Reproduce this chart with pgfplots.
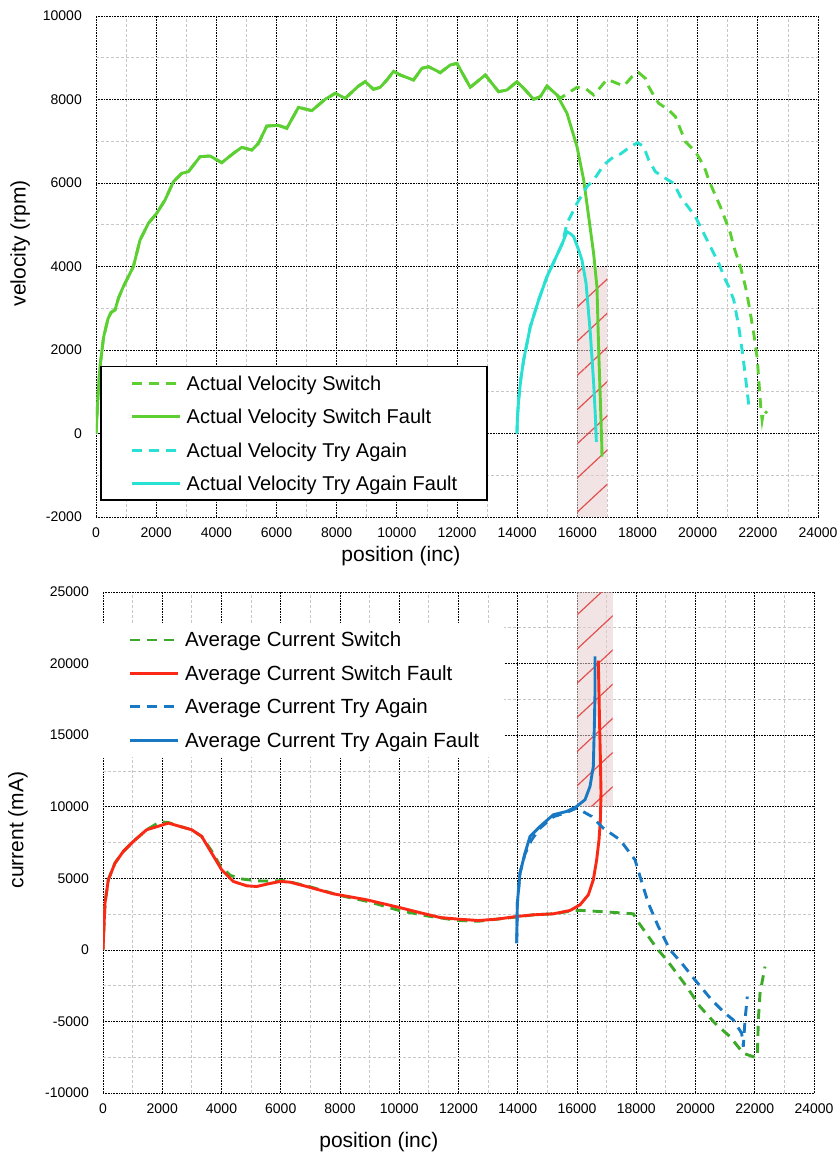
\documentclass[border=0pt]{standalone}
\usepackage{fontspec}
\setmainfont{Liberation Sans}
\usepackage{pgfplots}
\pgfplotsset{compat=1.18}
\usetikzlibrary{patterns.meta}
\definecolor{vgreen}{RGB}{92,208,50}
\definecolor{vcyan}{RGB}{40,225,210}
\definecolor{cgreen}{RGB}{60,170,40}
\definecolor{cred}{RGB}{250,40,20}
\definecolor{cblue}{RGB}{25,120,195}
\definecolor{hatchfill}{RGB}{232,205,205}
\definecolor{hatchline}{RGB}{225,80,80}
\pgfplotsset{
  mystyle/.style={
    scale only axis,
    scaled ticks=false,
    axis line style={draw=none},
    tick style={draw=none},
    grid=both,
    major grid style={black, line width=0.7pt, dash pattern=on 0.7pt off 0.9pt},
    minor grid style={black!22, line width=0.8pt, dash pattern=on 3pt off 2pt},
    tick label style={font=\fontsize{14}{16}\selectfont},
    xticklabel style={inner sep=0pt, anchor=north, yshift=-11pt},
    yticklabel style={inner sep=0pt, anchor=east, xshift=-14pt},
    label style={font=\fontsize{21}{24}\selectfont},
    legend cell align=left,
    legend image code/.code={\path (0pt,0pt); \draw[##1, line width=2.9pt] (0pt,0pt) -- (48pt,0pt);},
    xtick={0,2000,...,24000},
    xticklabels={0,2000,4000,6000,8000,10000,12000,14000,16000,18000,20000,22000,24000},
    minor xtick={1000,3000,...,23000},
    xmin=0, xmax=24000,
  },
  dashedline/.style={line width=2.9pt, dash pattern=on 10pt off 7pt},
  solidline/.style={line width=2.9pt},
}
\begin{document}
\begin{tikzpicture}
% ---------------- top axis ----------------
\begin{axis}[mystyle,
  at={(96pt,-517pt)}, anchor=south west,
  width=722pt, height=501pt,
  ymin=-2000, ymax=10000,
  ytick={-2000,0,2000,4000,6000,8000,10000},
  yticklabels={-2000,0,2000,4000,6000,8000,10000},
  minor ytick={-1000,1000,...,9000},
  xlabel={position (inc)},
  ylabel={velocity (rpm)},
  xlabel style={at={(axis description cs:0.4224,-0.0778)}, anchor=center},
  ylabel style={at={(axis description cs:-0.105,0.546)}, anchor=center},
  legend style={at={(axis description cs:0.0055,0.032)}, anchor=south west,
    draw=black, line width=1.6pt, fill=white, inner xsep=30pt, inner ysep=0pt,
    row sep=0pt, column sep=5pt,
    font=\fontsize{20}{22}\selectfont,
    nodes={inner xsep=0pt, inner ysep=5.7pt, text height=18pt, text depth=4pt}},
]
\fill[hatchfill, fill opacity=0.55] (axis cs:16000,-2000) rectangle (axis cs:17000,4000);
\path[pattern={Lines[angle=43, distance=25pt, line width=1.2pt]}, pattern color=hatchline]
  (axis cs:16000,-2000) rectangle (axis cs:17000,4000);
\addplot[vgreen, dashedline] coordinates {
(0,0) (30,400) (77,1042) (133,1600) (250,2300) (400,2750) (500,2900) (632,2960) (750,3250)
(908,3516) (1000,3650) (1241,3995) (1464,4635) (1741,5034) (2018,5274) (2295,5593) (2573,6031)
(2850,6232) (3071,6271) (3459,6630) (3792,6647) (4181,6487) (4569,6711) (4846,6854) (5179,6790)
(5400,6950) (5677,7365) (6065,7381) (6342,7310) (6730,7813) (7174,7732) (7617,8005) (7950,8148)
(8283,8029) (8726,8323) (8948,8427) (9224,8244) (9447,8292) (9669,8467) (9890,8675) (10112,8587)
(10555,8467) (10833,8747) (11055,8786) (11443,8643) (11776,8826) (11997,8866) (12440,8292)
(12939,8587) (13383,8187) (13661,8228) (13993,8427) (14270,8228) (14547,8005) (14769,8068)
(14991,8323) (15324,8108) (15434,8029) (15710,8163) (15989,8292) (16266,8268) (16543,8108)
(16765,8292) (16987,8483) (17319,8388) (17541,8323) (17818,8547) (18040,8643) (18262,8507)
(18373,8307) (18594,8029) (18705,7909) (19038,7748) (19260,7588) (19592,6990) (19925,6750)
(20091,6551) (20258,6311) (20369,6072) (20535,5792) (20756,5432) (20923,5114) (21089,4795)
(21200,4474) (21422,3995) (21588,3516) (21700,3100) (21864,2399) (21980,1800) (22031,1281)
(22100,600) (22142,323) (22197,563) (22308,484)
};
\addlegendentry{Actual Velocity Switch}
\addplot[vgreen, solidline] coordinates {
(0,0) (30,400) (77,1042) (133,1600) (250,2300) (400,2750) (500,2900) (632,2960) (750,3250)
(908,3516) (1000,3650) (1241,3995) (1464,4635) (1741,5034) (2018,5274) (2295,5593) (2573,6031)
(2850,6232) (3071,6271) (3459,6630) (3792,6647) (4181,6487) (4569,6711) (4846,6854) (5179,6790)
(5400,6950) (5677,7365) (6065,7381) (6342,7310) (6730,7813) (7174,7732) (7617,8005) (7950,8148)
(8283,8029) (8726,8323) (8948,8427) (9224,8244) (9447,8292) (9669,8467) (9890,8675) (10112,8587)
(10555,8467) (10833,8747) (11055,8786) (11443,8643) (11776,8826) (11997,8866) (12440,8292)
(12939,8587) (13383,8187) (13661,8228) (13993,8427) (14270,8228) (14547,8005) (14769,8068)
(14991,8323) (15324,8108) (15656,7669) (15989,6870) (16211,6072) (16377,5193) (16543,4300)
(16653,3500) (16709,2000) (16765,800) (16810,-200) (16820,-556)
};
\addlegendentry{Actual Velocity Switch Fault}
\addplot[vcyan, dashedline] coordinates {
(13993,0) (14010,400) (14049,802) (14120,1300) (14215,1760) (14437,2558) (14714,3198)
(14991,3756) (15324,4275) (15500,4550) (15656,5034) (15878,5353) (15989,5513) (16321,5912)
(16543,6072) (16876,6431) (17208,6630) (17430,6694) (17763,6870) (18007,6966) (18206,6870)
(18373,6551) (18594,6271) (18927,6112) (19204,5992) (19426,5672) (19758,5353) (19925,5193)
(20147,4874) (20424,4474) (20701,4077) (20923,3677) (21034,3516) (21200,3198) (21366,2558)
(21477,2000) (21588,1360) (21699,683)
};
\addlegendentry{Actual Velocity Try Again}
\addplot[vcyan, solidline] coordinates {
(13993,0) (14010,400) (14049,802) (14120,1300) (14215,1760) (14437,2558) (14714,3198)
(14991,3756) (15324,4275) (15500,4550) (15656,4834) (15780,4780) (15878,4714) (16044,4395)
(16155,4150) (16290,3597) (16432,2400) (16543,1200) (16600,400) (16632,-200)
};
\addlegendentry{Actual Velocity Try Again Fault}
\end{axis}
% ---------------- bottom axis ----------------
\begin{axis}[mystyle,
  at={(103pt,-1093pt)}, anchor=south west,
  width=711pt, height=501pt,
  ymin=-10000, ymax=25000,
  ytick={-10000,-5000,0,5000,10000,15000,20000,25000},
  yticklabels={-10000,-5000,0,5000,10000,15000,20000,25000},
  minor ytick={-7500,-2500,2500,7500,12500,17500,22500},
  xlabel={position (inc)},
  ylabel={current (mA)},
  xlabel style={at={(axis description cs:0.388,-0.0978)}, anchor=center},
  ylabel style={at={(axis description cs:-0.1195,0.525)}, anchor=center},
  legend style={at={(axis description cs:0,0.938)}, anchor=north west,
    draw=none, fill=white, inner xsep=25pt, inner ysep=0pt,
    row sep=0pt, column sep=6pt,
    font=\fontsize{20.5}{22}\selectfont,
    nodes={inner xsep=0pt, inner ysep=5.7pt, text height=18pt, text depth=4pt}},
]
\fill[hatchfill, fill opacity=0.55] (axis cs:16000,10000) rectangle (axis cs:17200,25000);
\path[pattern={Lines[angle=43, distance=25pt, line width=1.2pt]}, pattern color=hatchline]
  (axis cs:16000,10000) rectangle (axis cs:17200,25000);
\addplot[cgreen, dashedline] coordinates {
(0,0) (68,3263) (179,4895) (405,6063) (686,6876) (1024,7576) (1474,8392) (1924,8950) (2205,8900)
(2599,8624) (2993,8392) (3331,7925) (3669,6900) (3950,5900) (4300,5200) (4700,4950) (5200,4820)
(5700,4800) (6100,4850) (6500,4650) (7000,4400) (8000,3800) (9000,3350) (10000,2750) (11000,2350)
(12000,2050) (12669,2000) (13289,2145) (13964,2300) (14526,2448) (15201,2518) (15764,2700)
(16100,2760) (17000,2650) (17900,2520) (18014,2098) (18689,117) (19027,-699) (19702,-2566)
(20152,-3965) (20658,-5126) (21165,-6063) (21614,-7224) (21952,-7462) (22087,-7504)
(22121,-4895) (22177,-3028) (22346,-1168)
};
\addlegendentry{Average Current Switch}
\addplot[cred, solidline] coordinates {
(0,0) (30,1500) (68,3263) (179,4895) (405,6063) (686,6876) (1024,7576) (1474,8392) (1924,8672)
(2205,8858) (2599,8624) (2993,8392) (3331,7925) (3669,6760) (4006,5594) (4399,4778) (4850,4476)
(5187,4427) (5580,4615) (5975,4778) (6312,4732) (6876,4427) (7774,3916) (8901,3497) (10025,2950)
(10700,2600) (11376,2261) (11994,2145) (12669,2051) (13289,2145) (13964,2331) (14526,2448)
(15201,2518) (15764,2751) (16102,3147) (16383,3846) (16551,4895) (16664,6294) (16743,7692)
(16790,9091) (16810,11000) (16790,13300) (16760,16000) (16720,20200)
};
\addlegendentry{Average Current Switch Fault}
\addplot[cblue, dashedline] coordinates {
(13964,469) (13986,3263) (14076,5364) (14245,6700) (14471,7700) (14751,8500) (15201,9300)
(15652,9600) (15989,9909) (16495,9322) (16889,8500) (17451,7692) (17958,6294) (18127,5126)
(18407,3263) (18745,1631) (19139,0) (19534,-932) (19983,-2098) (20546,-3497) (20996,-4427)
(21277,-4895) (21558,-5825) (21614,-6760) (21671,-4895) (21749,-3263)
};
\addlegendentry{Average Current Try Again}
\addplot[cblue, solidline] coordinates {
(13964,469) (13986,3263) (14076,5364) (14189,6294) (14245,6762) (14414,7925) (14751,8622)
(15201,9441) (15652,9671) (15989,10021) (16270,10490) (16439,11420) (16551,12818) (16585,15615)
(16608,17951) (16608,20511)
};
\addlegendentry{Average Current Try Again Fault}
\end{axis}
\pgfresetboundingbox
\path[use as bounding box] (0pt,0pt) rectangle (840pt,-1153pt);
\end{tikzpicture}
\end{document}
